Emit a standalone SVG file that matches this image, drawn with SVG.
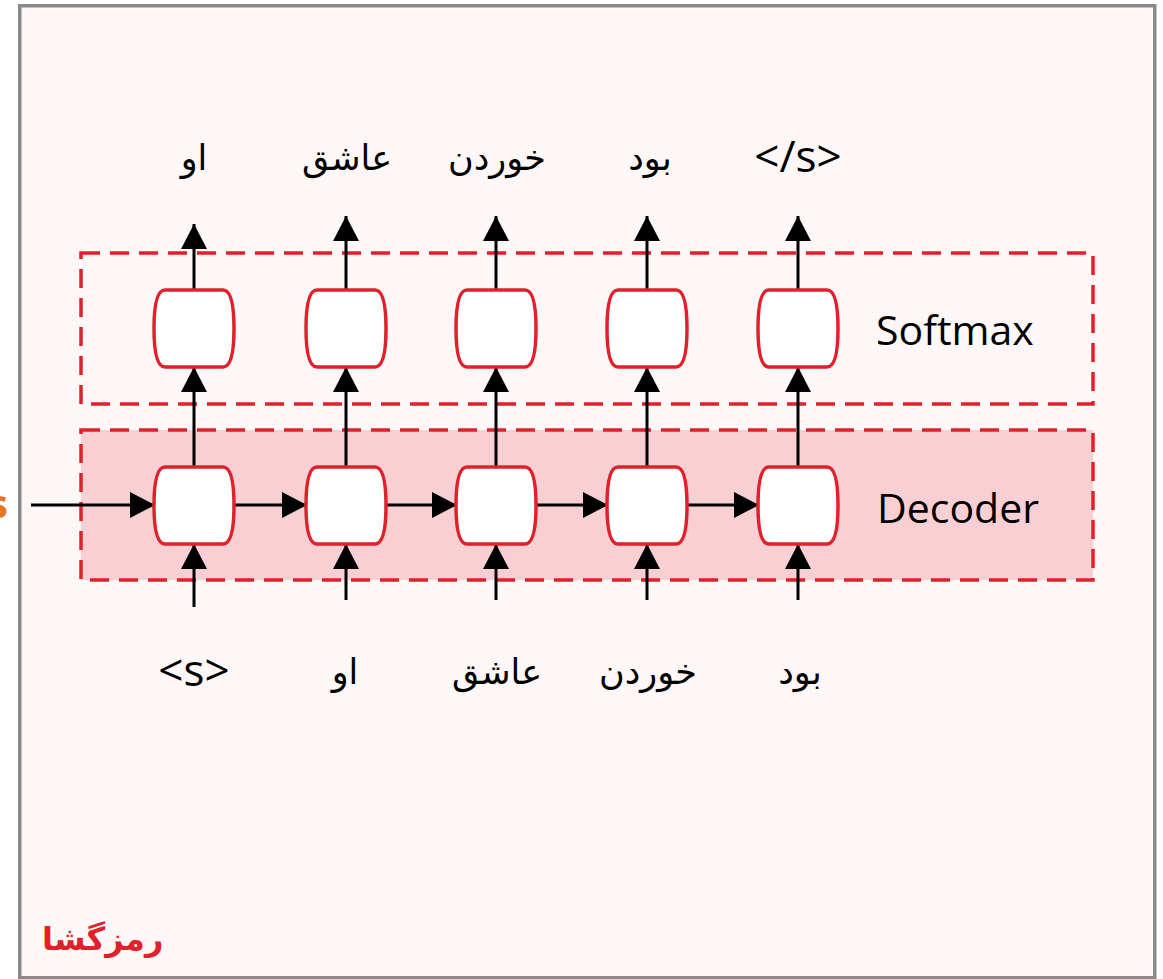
<svg xmlns="http://www.w3.org/2000/svg" width="1163" height="979" viewBox="0 0 1163 979">
<defs>
<style>
.frame{fill:#fdf8f7;stroke:#8a8a8a;stroke-width:3.5}
.grp{stroke:#e0202a;stroke-width:3.5;stroke-dasharray:19 10}
.node{fill:#ffffff;stroke:#e0202a;stroke-width:3.5}
.edge{stroke:#000;stroke-width:3;fill:none}
.fa{font-family:"DejaVu Sans","Noto Sans",sans-serif;font-size:35px;fill:#000;text-anchor:middle}
.lat{font-family:"Open Sans","Noto Sans",sans-serif;font-size:44px;fill:#000;text-anchor:middle}
.lbl{font-family:"Open Sans","Noto Sans",sans-serif;font-size:41px;fill:#000}
.title{font-family:"DejaVu Sans",sans-serif;font-size:32px;font-weight:bold;fill:#e0202a}
</style>
<marker id="ah" viewBox="0 0 25 26" refX="25" refY="13" markerWidth="25" markerHeight="26" markerUnits="userSpaceOnUse" orient="auto">
<path d="M0,0 L25,13 L0,26 Z" fill="#000"/>
</marker>
<path id="cell" d="M-29,-38.5 H29 C38,-38.5 40,-20 40,0 C40,20 38,38.5 29,38.5 H-29 C-38,38.5 -40,20 -40,0 C-40,-20 -38,-38.5 -29,-38.5 Z"/>
</defs>
<rect class="frame" x="19.75" y="5.75" width="1135" height="972"/>
<text x="8" y="518" style="font-family:'Open Sans',sans-serif;font-size:40px;font-weight:bold;fill:#e8731a;text-anchor:end">s</text>
<g id="softmax-group">
<rect class="grp" x="81" y="253" width="1012" height="151" fill="none"/>
<text class="lbl" x="876" y="345">Softmax</text>
</g>
<g id="decoder-group">
<rect class="grp" x="81" y="430" width="1012" height="150" fill="#f8d0d3"/>
<text class="lbl" x="877" y="523">Decoder</text>
</g>
<g id="connectors">
<line class="edge" x1="194" y1="290" x2="194" y2="224" marker-end="url(#ah)"/>
<line class="edge" x1="346" y1="290" x2="346" y2="216" marker-end="url(#ah)"/>
<line class="edge" x1="496" y1="290" x2="496" y2="216" marker-end="url(#ah)"/>
<line class="edge" x1="647" y1="290" x2="647" y2="216" marker-end="url(#ah)"/>
<line class="edge" x1="798" y1="290" x2="798" y2="216" marker-end="url(#ah)"/>
<line class="edge" x1="194" y1="467" x2="194" y2="367" marker-end="url(#ah)"/>
<line class="edge" x1="346" y1="467" x2="346" y2="367" marker-end="url(#ah)"/>
<line class="edge" x1="496" y1="467" x2="496" y2="367" marker-end="url(#ah)"/>
<line class="edge" x1="647" y1="467" x2="647" y2="367" marker-end="url(#ah)"/>
<line class="edge" x1="798" y1="467" x2="798" y2="367" marker-end="url(#ah)"/>
<line class="edge" x1="194" y1="607" x2="194" y2="544" marker-end="url(#ah)"/>
<line class="edge" x1="346" y1="600" x2="346" y2="544" marker-end="url(#ah)"/>
<line class="edge" x1="496" y1="600" x2="496" y2="544" marker-end="url(#ah)"/>
<line class="edge" x1="647" y1="600" x2="647" y2="544" marker-end="url(#ah)"/>
<line class="edge" x1="798" y1="600" x2="798" y2="544" marker-end="url(#ah)"/>
<line class="edge" x1="31" y1="505" x2="155" y2="505" marker-end="url(#ah)"/>
<line class="edge" x1="234" y1="505" x2="307" y2="505" marker-end="url(#ah)"/>
<line class="edge" x1="386" y1="505" x2="457" y2="505" marker-end="url(#ah)"/>
<line class="edge" x1="536" y1="505" x2="608" y2="505" marker-end="url(#ah)"/>
<line class="edge" x1="687" y1="505" x2="759" y2="505" marker-end="url(#ah)"/>
</g>
<g id="softmax-1"><use href="#cell" class="node" x="194" y="328.5"/></g>
<g id="softmax-2"><use href="#cell" class="node" x="346" y="328.5"/></g>
<g id="softmax-3"><use href="#cell" class="node" x="496" y="328.5"/></g>
<g id="softmax-4"><use href="#cell" class="node" x="647" y="328.5"/></g>
<g id="softmax-5"><use href="#cell" class="node" x="798" y="328.5"/></g>
<g id="decoder-1"><use href="#cell" class="node" x="194" y="505.5"/></g>
<g id="decoder-2"><use href="#cell" class="node" x="346" y="505.5"/></g>
<g id="decoder-3"><use href="#cell" class="node" x="496" y="505.5"/></g>
<g id="decoder-4"><use href="#cell" class="node" x="647" y="505.5"/></g>
<g id="decoder-5"><use href="#cell" class="node" x="798" y="505.5"/></g>
<g id="outputs">
<text class="fa" x="194" y="170">او</text>
<text class="fa" x="347" y="170">عاشق</text>
<text class="fa" x="497" y="170">خوردن</text>
<text class="fa" x="650" y="170">بود</text>
<text class="lat" x="798" y="172">&lt;/s&gt;</text>
</g>
<g id="inputs">
<text class="lat" x="194" y="686">&lt;s&gt;</text>
<text class="fa" x="345" y="684">او</text>
<text class="fa" x="497" y="684">عاشق</text>
<text class="fa" x="648" y="684">خوردن</text>
<text class="fa" x="800" y="684">بود</text>
</g>
<text class="title" x="42" y="950">رمزگشا</text>
</svg>
